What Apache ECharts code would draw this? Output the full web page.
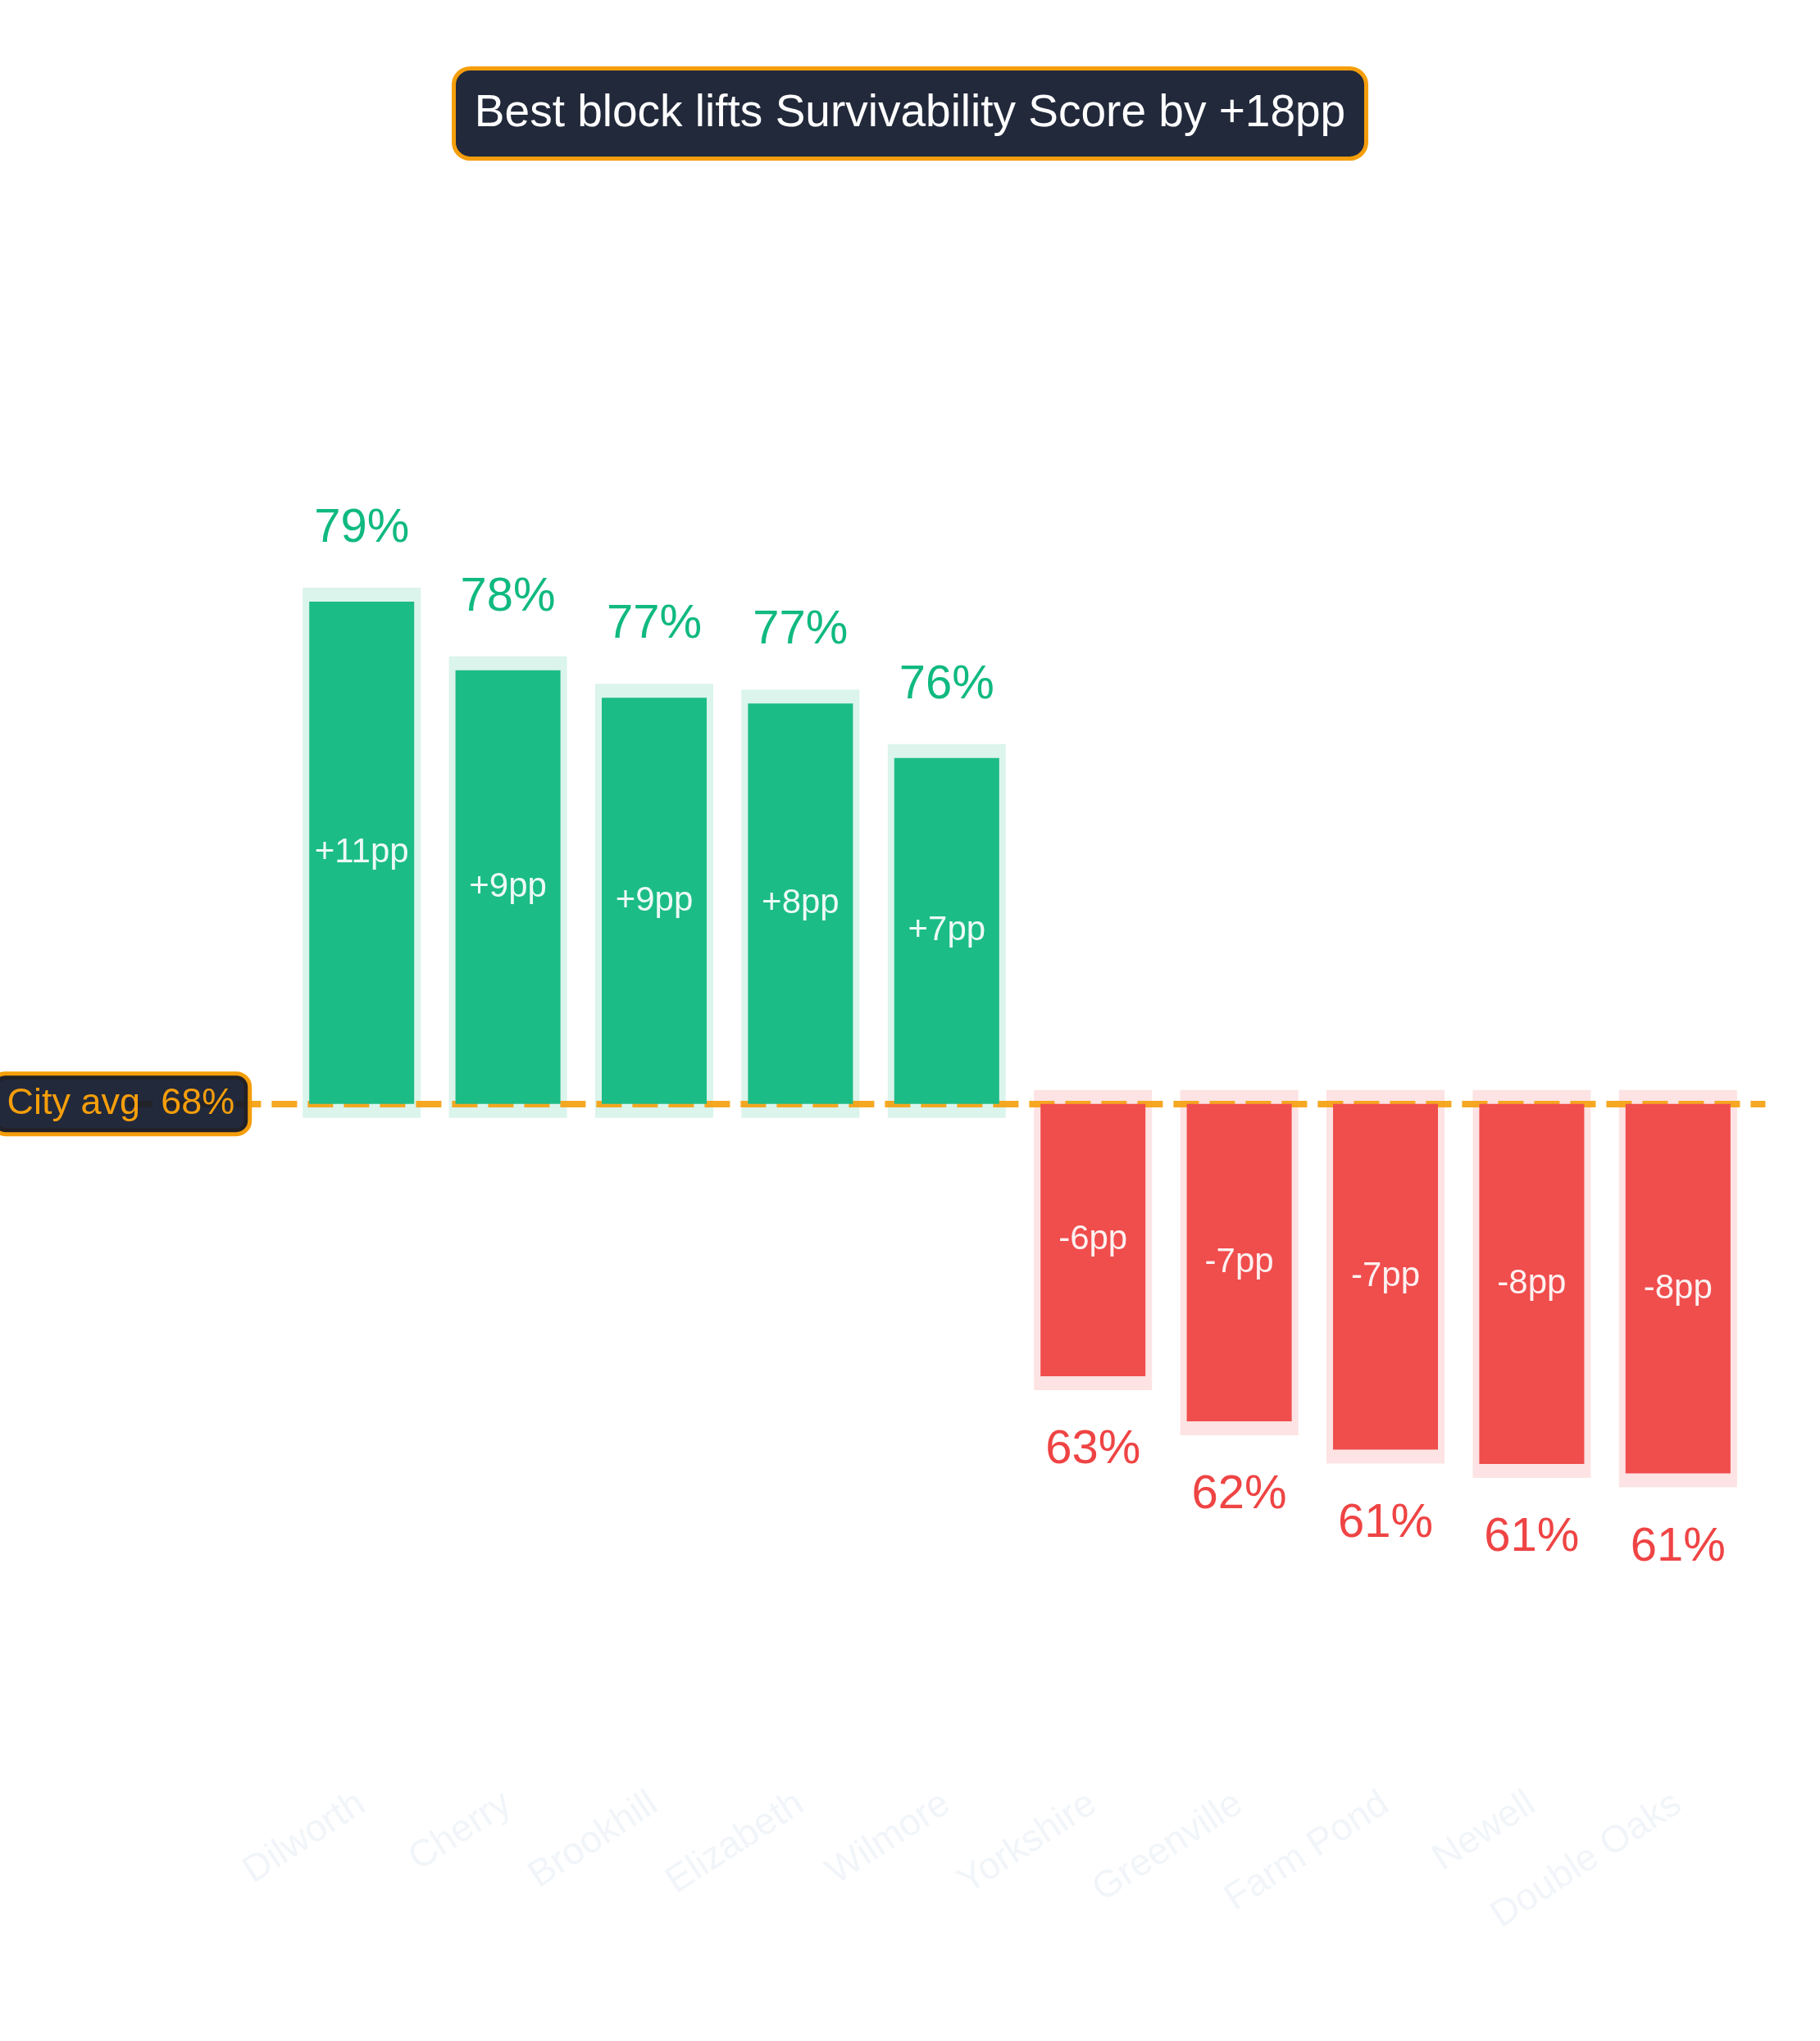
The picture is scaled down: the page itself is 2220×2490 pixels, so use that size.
<!DOCTYPE html>
<html>
<head>
<meta charset="utf-8">
<title>Survivability Score by block</title>
<script src="https://cdn.jsdelivr.net/npm/echarts@6/dist/echarts.min.js"></script>
</head>
<body style="margin:0;padding:0;background:#fff;">
<div id="main" style="width:2220px;height:2490px;"></div>
<script>
// blocks and their Survivability Score (%), city average as reference
var blocks = ['Dilworth', 'Cherry', 'Brookhill', 'Elizabeth', 'Wilmore', 'Yorkshire', 'Greenville', 'Farm Pond', 'Newell', 'Double Oaks'];
var scores = [79.0, 77.55, 76.97, 76.85, 75.7, 62.65, 61.7, 61.1, 60.8, 60.6];
var cityAvg = 68.4;
var yRange = [54, 84];

var FONT = '"Liberation Sans", Arial, Helvetica, sans-serif';
var GREEN = '#1cbc87', GREEN_TXT = '#10b981', GREEN_SOFT = '#dbf4ec';
var RED = '#f04d4d', RED_TXT = '#ef4444', RED_SOFT = '#fde3e3';
var ORANGE = '#f59e0b';
var NAVY = 'rgba(15,23,42,0.92)';

var baseVals = scores.map(function (v) { return Math.min(v, cityAvg); });
var deltaVals = scores.map(function (v) {
    return { value: Math.abs(v - cityAvg), itemStyle: { color: v >= cityAvg ? GREEN : RED } };
});
var haloData = scores.map(function (v, i) { return [i, v]; });
var spread = Math.round(Math.max.apply(null, scores) - Math.min.apply(null, scores));

var chart = echarts.init(document.getElementById('main'));

// light box behind each bar plus the score label past its end
function renderHalo(params, api) {
    var i = api.value(0), v = api.value(1);
    var end = api.coord([i, v]);
    var base = api.coord([i, cityAvg]);
    var up = v >= cityAvg;
    var w = 144, padY = 17;
    var y0 = up ? end[1] - padY : base[1] - padY;
    var y1 = up ? base[1] + padY : end[1] + padY;
    return {
        type: 'group',
        children: [{
            type: 'rect',
            shape: { x: end[0] - w / 2, y: y0, width: w, height: y1 - y0 },
            style: { fill: up ? GREEN_SOFT : RED_SOFT }
        }, {
            type: 'text',
            x: end[0],
            y: up ? end[1] - 89 : end[1] + 90,
            style: {
                text: Math.round(v) + '%',
                fill: up ? GREEN_TXT : RED_TXT,
                fontSize: 58,
                fontFamily: FONT,
                align: 'center',
                verticalAlign: 'middle'
            }
        }]
    };
}

var option = {
    backgroundColor: '#ffffff',
    animation: false,
    title: {
        text: 'Best block lifts Survivability Score by +' + spread + 'pp',
        left: 'center',
        top: 83,
        backgroundColor: NAVY,
        borderColor: ORANGE,
        borderWidth: 5,
        borderRadius: 20,
        padding: [28, 26],
        textStyle: { color: '#ffffff', fontSize: 55, fontWeight: 'normal', fontFamily: FONT }
    },
    grid: { left: 352, right: 84, top: 445, bottom: 311, outerBoundsMode: 'none' },
    xAxis: {
        type: 'category',
        data: blocks,
        axisLine: { show: false },
        axisTick: { show: false },
        axisLabel: { rotate: 33, margin: 18, color: '#f1f5f9', fontSize: 46, fontFamily: FONT, interval: 0 }
    },
    yAxis: {
        type: 'value',
        min: yRange[0],
        max: yRange[1],
        show: false,
        splitLine: { show: false }
    },
    series: [
        {
            name: 'halo',
            type: 'custom',
            z: 1,
            silent: true,
            renderItem: renderHalo,
            data: haloData
        },
        {
            name: 'base',
            type: 'bar',
            stack: 'score',
            z: 2,
            barWidth: 128,
            silent: true,
            itemStyle: { color: 'transparent' },
            data: baseVals,
            markLine: {
                z: 2,
                silent: true,
                symbol: ['none', 'none'],
                lineStyle: { color: 'rgba(245,158,11,0.9)', width: 8, type: [31, 13] },
                label: {
                    show: true,
                    position: 'start',
                    distance: 8,
                    align: 'center',
                    formatter: 'City avg  ' + Math.round(cityAvg) + '%',
                    color: ORANGE,
                    fontSize: 45,
                    fontFamily: FONT,
                    backgroundColor: NAVY,
                    borderColor: ORANGE,
                    borderWidth: 5,
                    borderRadius: 14,
                    padding: [12, 16]
                },
                data: [[{ x: '7%', yAxis: cityAvg }, { x: '97%', yAxis: cityAvg }]]
            }
        },
        {
            name: 'delta',
            type: 'bar',
            stack: 'score',
            z: 3,
            barWidth: 128,
            data: deltaVals,
            label: {
                show: true,
                position: 'inside',
                color: 'rgba(255,255,255,0.92)',
                fontSize: 42,
                fontFamily: FONT,
                formatter: function (p) {
                    var d = scores[p.dataIndex] - cityAvg;
                    return (d >= 0 ? '+' : '-') + Math.round(Math.abs(d)) + 'pp';
                }
            }
        }
    ]
};

chart.setOption(option);
</script>
</body>
</html>
